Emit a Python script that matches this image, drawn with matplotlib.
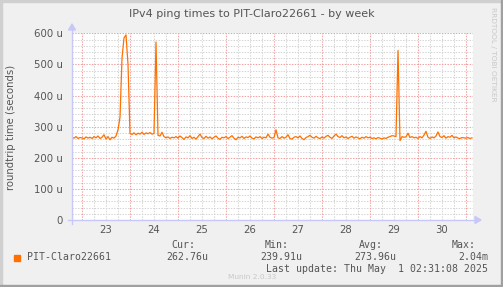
import matplotlib.pyplot as plt
import numpy as np
from matplotlib.patches import Rectangle, Polygon
from matplotlib.lines import Line2D

# hourly ping times (microseconds), first sample = Apr 22 19:00
pre = [266, 263, 268, 262, 265]
d23 = [264, 261, 267, 263, 266, 262, 268, 264, 270, 262, 266, 274, 260, 268, 258, 266, 263, 270, 290, 330, 520, 585, 595, 500]
d24 = [278, 275, 280, 274, 279, 276, 282, 275, 280, 277, 281, 276, 278, 572, 272, 270, 282, 268, 264, 267, 262, 266, 264, 268]
d25 = [263, 270, 265, 259, 267, 264, 271, 262, 266, 260, 268, 276, 265, 262, 269, 263, 267, 261, 266, 270, 263, 259, 266, 264]
d26 = [268, 262, 266, 271, 263, 258, 266, 264, 269, 262, 267, 265, 270, 263, 261, 267, 264, 268, 262, 266, 264, 276, 266, 263]
d27 = [265, 290, 264, 262, 268, 263, 266, 274, 262, 260, 266, 268, 264, 270, 262, 258, 265, 268, 272, 266, 263, 269, 264, 262]
d28 = [267, 263, 269, 272, 266, 262, 270, 276, 268, 265, 271, 264, 267, 262, 266, 269, 263, 267, 264, 261, 266, 263, 268, 264]
d29 = [266, 262, 264, 261, 265, 263, 260, 264, 262, 266, 268, 271, 270, 268, 545, 255, 268, 266, 267, 279, 265, 268, 264, 266]
d30 = [262, 268, 264, 273, 285, 266, 262, 267, 264, 270, 283, 268, 265, 271, 263, 268, 266, 272, 264, 267, 263, 262, 265, 264]
post = [263, 265, 262, 264]
values = pre + d23 + d24 + d25 + d26 + d27 + d28 + d29 + d30 + post

day_labels = ['23', '24', '25', '26', '27', '28', '29', '30']
y_labels = ['0', '100 u', '200 u', '300 u', '400 u', '500 u', '600 u']

legend_name = 'PIT-Claro22661'
cur, vmin, avg, vmax = '262.76u', '239.91u', '273.96u', '2.04m'
last_update = 'Last update: Thu May  1 02:31:08 2025'

W, H = 503, 287
TXT = '#555555'
ORANGE = '#ff7000'
AXC = '#c8c8f8'

plt.rcParams['lines.scale_dashes'] = False

def fx(x):
    return x / W

def fy(y):
    return 1 - y / H

fig = plt.figure(figsize=(W / 100, H / 100), dpi=100, facecolor='#f0f0f0')
L, R, T, B = 72, 473, 33.3, 220
ax = fig.add_axes([fx(L), fy(B), (R - L) / W, (B - T) / H])
ax.set_facecolor('white')

hours = np.arange(-5, -5 + len(values))
ax.set_xlim(-5, 195.5)
ax.set_ylim(0, 600)

# grid: gray every 6h / 20u, red every day / 100u
dots = (0, (1.0, 1.0))
for h in range(-0, 196, 6):
    if h % 24:
        ax.axvline(h, color='#d4d4d4', lw=0.75, ls=dots, zorder=1)
for v in range(20, 601, 20):
    if v % 100:
        ax.axhline(v, color='#d4d4d4', lw=0.75, ls=dots, zorder=1)
for h in range(0, 196, 24):
    ax.axvline(h, color='#f4a0a0', lw=0.75, ls=dots, zorder=2)
for v in range(100, 601, 100):
    ax.axhline(v, color='#f4a0a0', lw=0.75, ls=dots, zorder=2)

ax.plot(hours, values, color=ORANGE, lw=0.9, zorder=5)

for s in ax.spines.values():
    s.set_visible(False)

ax.set_xticks([12 + 24 * i for i in range(len(day_labels))], day_labels)
ax.set_yticks(range(0, 601, 100), y_labels)
ax.tick_params(axis='both', length=0, colors=TXT, labelsize=7.3)
ax.tick_params(axis='x', pad=3.5)
ax.tick_params(axis='y', pad=6.5)

# axis lines with arrows
fig.add_artist(Line2D([fx(68), fx(476)], [fy(220), fy(220)], color=AXC, lw=1))
fig.add_artist(Line2D([fx(72), fx(72)], [fy(224), fy(29)], color=AXC, lw=1))
fig.add_artist(Polygon([[fx(475), fy(216.5)], [fx(475), fy(223.5)], [fx(481), fy(220)]], color=AXC))
fig.add_artist(Polygon([[fx(68.5), fy(30)], [fx(75.5), fy(30)], [fx(72), fy(24)]], color=AXC))

fig.text(fx(252), fy(14), 'IPv4 ping times to PIT-Claro22661 - by week',
         ha='center', va='center', fontsize=8, color=TXT)
fig.text(fx(11), fy(127), 'roundtrip time (seconds)', rotation=90,
         ha='center', va='center', fontsize=7.3, color=TXT)
fig.text(fx(493), fy(54), 'RRDTOOL / TOBI OETIKER', rotation=270,
         ha='center', va='center', fontsize=5.3, color='#c8c8c8')
fig.text(fx(252), fy(277), 'Munin 2.0.33', ha='center', va='center',
         fontsize=5.3, color='#c8c8c8')

# legend
mono = dict(family='DejaVu Sans Mono', fontsize=7.1, color=TXT, va='center')
fig.add_artist(Rectangle((fx(14), fy(261)), 6 / W, 6 / H, color=ORANGE))
fig.text(fx(27), fy(257), legend_name, ha='left', **mono)
fig.text(fx(195), fy(245), 'Cur:', ha='right', **mono)
fig.text(fx(208), fy(257), cur, ha='right', **mono)
fig.text(fx(289), fy(245), 'Min:', ha='right', **mono)
fig.text(fx(302), fy(257), vmin, ha='right', **mono)
fig.text(fx(383), fy(245), 'Avg:', ha='right', **mono)
fig.text(fx(396), fy(257), avg, ha='right', **mono)
fig.text(fx(476), fy(245), 'Max:', ha='right', **mono)
fig.text(fx(488), fy(257), vmax, ha='right', **mono)
fig.text(fx(488), fy(269), last_update, ha='right', **mono)

# frame
fig.add_artist(Rectangle((0, 0), 2 / W, 1, color='#d0d0d0'))
fig.add_artist(Rectangle((0, 1 - 2 / H), 1, 2 / H, color='#d0d0d0'))
fig.add_artist(Rectangle((1 - 2 / W, 0), 2 / W, 1, color='#a0a0a0'))
fig.add_artist(Rectangle((0, 0), 1, 2 / H, color='#a0a0a0'))

fig.savefig('out.png', dpi=100, facecolor=fig.get_facecolor())
